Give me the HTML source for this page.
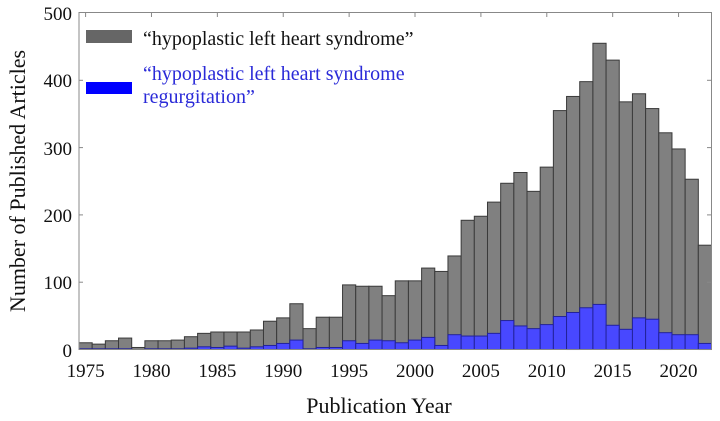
<!DOCTYPE html>
<html><head><meta charset="utf-8"><style>
html,body{margin:0;padding:0;background:#fff;}
svg{display:block;}
svg text{font-family:"Liberation Serif","DejaVu Serif",serif;}
</style></head><body>
<svg id="s" width="720" height="421" viewBox="0 0 720 421" xmlns="http://www.w3.org/2000/svg">
<rect x="0" y="0" width="720" height="421" fill="#fff"/>
<g id="bars"></g>
<rect x="79" y="12.5" width="632.5" height="337" fill="none" stroke="#888" stroke-width="1"/>
<g id="ticks" stroke="#888" stroke-width="1"></g>
<g font-size="19" fill="#111" text-anchor="end">
<text x="72" y="357">0</text>
<text x="72" y="289">100</text>
<text x="72" y="222">200</text>
<text x="72" y="155">300</text>
<text x="72" y="87">400</text>
<text x="72" y="20">500</text>
</g>
<g id="xl" font-size="19" fill="#111" text-anchor="middle"></g>
<text x="379" y="413" font-size="22" fill="#111" text-anchor="middle">Publication Year</text>
<text transform="translate(25,181) rotate(-90)" font-size="22" fill="#111" text-anchor="middle">Number of Published Articles</text>
<rect x="86" y="30" width="46" height="13" fill="#666"/>
<text x="143" y="45" font-size="20" fill="#111">“hypoplastic left heart syndrome”</text>
<rect x="86" y="82" width="46" height="12" fill="#0000ff"/>
<text x="143" y="80" font-size="20" fill="#2a2ad8">“hypoplastic left heart syndrome</text>
<text x="143" y="103" font-size="20" fill="#2a2ad8">regurgitation”</text>
</svg>
<script>
var g=[10,8,13,17,3,13,13,14,19,24,26,26,26,29,42,47,68,31,48,48,96,94,94,80,102,102,121,116,139,192,198,219,247,263,235,271,355,376,398,455,430,368,380,358,322,298,253,155];
var b=[1,1,1,1,0,1,1,1,2,4,3,5,2,4,6,9,14,1,3,3,13,9,14,13,10,14,18,6,22,20,20,24,43,35,31,37,49,55,62,67,36,30,47,45,25,22,22,9];
var x0=79,w=632.5/48,y0=349.5,k=0.673,h='';
for(var i=0;i<48;i++){var x=x0+i*w;
h+='<rect x="'+x.toFixed(2)+'" y="'+(y0-g[i]*k).toFixed(2)+'" width="'+w.toFixed(2)+'" height="'+(g[i]*k).toFixed(2)+'" fill="#808080" stroke="#3a3a3a" stroke-width="1"/>';}
for(var i=0;i<48;i++){var x=x0+i*w;if(b[i]>0)
h+='<rect x="'+x.toFixed(2)+'" y="'+(y0-b[i]*k).toFixed(2)+'" width="'+w.toFixed(2)+'" height="'+(b[i]*k).toFixed(2)+'" fill="#4848ff" stroke="#22229a" stroke-width="1"/>';}
document.getElementById('bars').innerHTML=h;
var t='',l='';
for(var yr=1975;yr<=2020;yr+=5){var cx=x0+(yr-1975+0.5)*w;
t+='<line x1="'+cx+'" y1="12.5" x2="'+cx+'" y2="17"/>';
l+='<text x="'+cx+'" y="377">'+yr+'</text>';}
for(var v=100;v<=400;v+=100){var yy=y0-v*k;t+='<line x1="79" y1="'+yy+'" x2="83" y2="'+yy+'"/><line x1="707" y1="'+yy+'" x2="711.5" y2="'+yy+'"/>';}
document.getElementById('ticks').innerHTML=t;
document.getElementById('xl').innerHTML=l;
</script>
</body></html>
